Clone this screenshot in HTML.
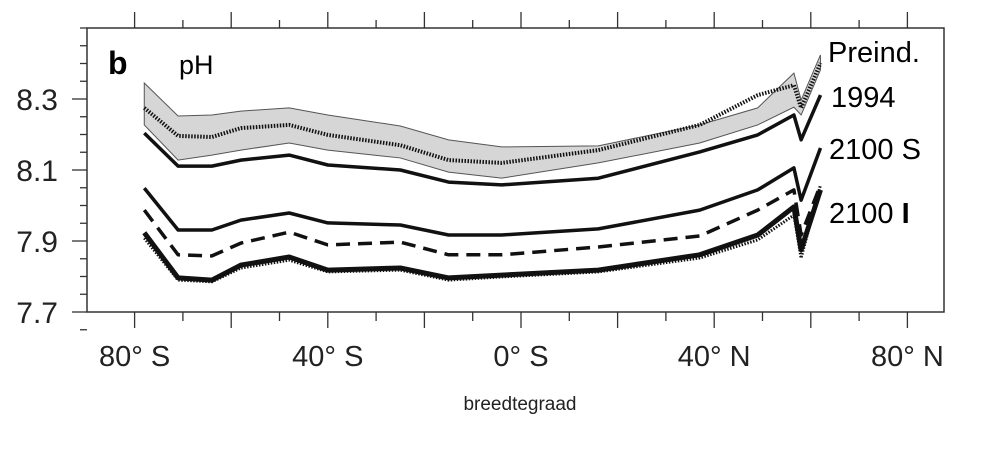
<!DOCTYPE html>
<html><head><meta charset="utf-8"><style>
html,body{margin:0;padding:0;background:#fff;}
svg{display:block;font-family:"Liberation Sans",sans-serif;}
</style></head><body>
<svg id="chart" width="981" height="450" viewBox="0 0 981 450">
<g id="axes"></g>
<g id="series"></g>
<text x="108" y="74" font-size="32" font-weight="bold">b</text>
<text x="179" y="74" font-size="27">pH</text>
<text x="828" y="62" font-size="29">Preind.</text>
<text x="831" y="107" font-size="29">1994</text>
<text x="829" y="159" font-size="29">2100 S</text>
<text x="829" y="223" font-size="29">2100 <tspan font-weight="bold">I</tspan></text>
<text x="520" y="410" font-size="19" text-anchor="middle" fill="#222">breedtegraad</text>
</svg>
<script>
const lats = [-78,-71,-64,-58,-48,-40,-25,-15,-4,16,37,49,56.5,58,62];
const bandUpper = [8.345,8.252,8.255,8.266,8.275,8.255,8.224,8.185,8.165,8.168,8.227,8.275,8.373,8.297,8.424];
const bandLower = [8.227,8.128,8.142,8.156,8.176,8.156,8.134,8.094,8.077,8.120,8.176,8.227,8.277,8.255,8.382];
const preind = [8.275,8.196,8.193,8.218,8.227,8.199,8.170,8.128,8.120,8.156,8.227,8.311,8.339,8.275,8.401];
const y1994 = [8.204,8.111,8.111,8.128,8.142,8.114,8.100,8.066,8.058,8.077,8.151,8.199,8.255,8.185,8.311];
const s2100 = [8.049,7.931,7.931,7.959,7.979,7.951,7.945,7.917,7.917,7.934,7.987,8.044,8.106,8.015,8.162];
const s2100Dashed = [7.987,7.861,7.858,7.894,7.925,7.889,7.897,7.861,7.861,7.883,7.914,7.987,8.044,7.917,8.058];
const i2100 = [7.923,7.796,7.790,7.832,7.855,7.818,7.824,7.796,7.804,7.818,7.861,7.917,7.996,7.875,8.044];
const i2100Dotted = [7.908,7.790,7.785,7.824,7.846,7.813,7.818,7.790,7.799,7.813,7.852,7.903,7.973,7.852,8.058];
const yTicks = [7.7,7.9,8.1,8.3];
const xTickLabels = ["80° S","40° S","0° S","40° N","80° N"];
const xTickLats = [-80,-40,0,40,80];

const L=87,R=944,T=28,B=312;
const X = lat => 521 + lat*4.83;
const Y = v => 312 - (v-7.7)*355;
const NS='http://www.w3.org/2000/svg';
const axes=document.getElementById('axes'), ser=document.getElementById('series');
function mk(tag, attrs, parent){const e=document.createElementNS(NS,tag);for(const k in attrs)e.setAttribute(k,attrs[k]);parent.appendChild(e);return e;}

// band
let pts = lats.map((l,i)=>X(l)+','+Y(bandUpper[i])).concat(lats.slice().reverse().map((l,j)=>{const i=lats.length-1-j;return X(l)+','+Y(bandLower[i]);}));
const band = mk('polygon',{points:pts.join(' '),fill:'#d6d6d6',stroke:'#555','stroke-width':1},ser);



function line(vals,name,w,dash){
  const p = mk('polyline',{points:lats.map((l,i)=>X(l).toFixed(1)+','+Y(vals[i]).toFixed(1)).join(' '),fill:'none',stroke:'#111','stroke-width':w,'stroke-linejoin':'round'},ser);
  if(dash) p.setAttribute('stroke-dasharray',dash);
  
  
}
line(y1994,'line-1994',3.5);
line(preind,'line-preind',4,'1.5 1.5');
line(s2100,'line-2100-s',3.5);
line(s2100Dashed,'line-2100-s-dashed',3.5,'14 8');
line(i2100,'line-2100-i',5);
line(i2100Dotted,'line-2100-i-dotted',3,'1.5 1.5');

// frame
const fr = mk('rect',{x:L,y:T,width:R-L,height:B-T,fill:'none',stroke:'#333','stroke-width':1.5},axes);


// y ticks
for(let v=7.65; v<=8.501; v+=0.05){
  const y=Y(v); const major = yTicks.some(t=>Math.abs(t-v)<1e-6);
  const t=mk('line',{x1:L-(major?15:7),x2:L,y1:y,y2:y,stroke:'#333','stroke-width':1.3},axes);
  
  
  if(v>=T-1 && y>=T){const t2=mk('line',{x1:R,x2:R+13,y1:y,y2:y,stroke:'#333','stroke-width':1.3},axes);
  
  }
}
yTicks.forEach(v=>{
  const t=mk('text',{x:58,y:Y(v)+11,'font-size':30,'text-anchor':'end',fill:'#222'},axes);
  t.textContent=v.toFixed(1);
  
  
});
// x ticks
for(let lat=-80; lat<=88; lat+=10){
  const x=X(lat); const major = (lat%20===0);
  const b=mk('line',{x1:x,x2:x,y1:B,y2:B+(major?16:9),stroke:'#333','stroke-width':1.3},axes);
  
  
  const t=mk('line',{x1:x,x2:x,y1:T,y2:T-(major?16:8),stroke:'#333','stroke-width':1.3},axes);
  
  
}
xTickLabels.forEach((s,i)=>{
  const t=mk('text',{x:X(xTickLats[i]),y:366,'font-size':29,'text-anchor':'middle',fill:'#222'},axes);
  t.textContent=s;
  
  
});
</script>
</body></html>
